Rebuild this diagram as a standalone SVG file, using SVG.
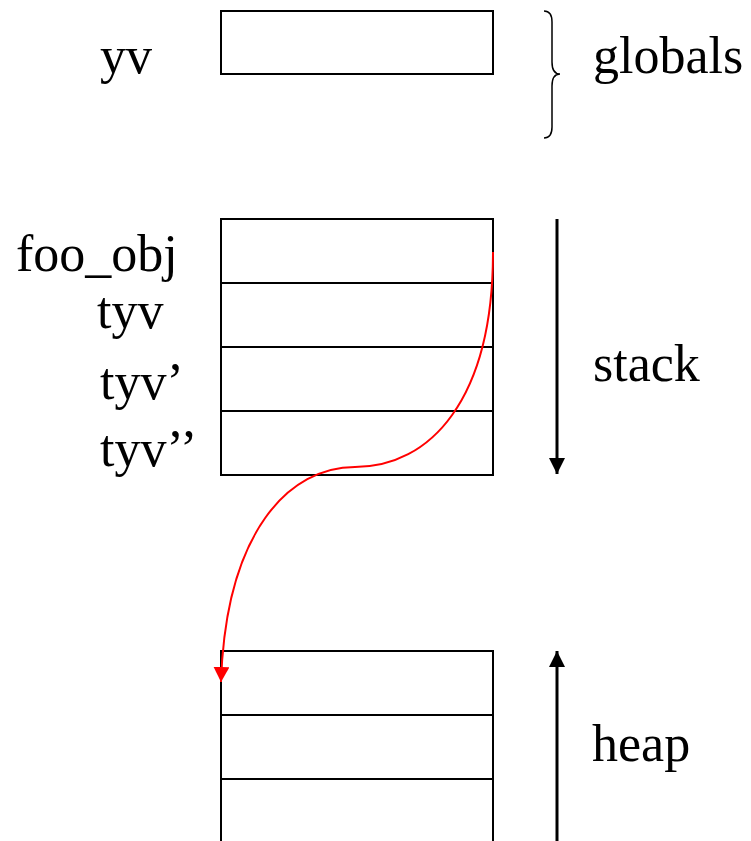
<svg xmlns="http://www.w3.org/2000/svg" width="751" height="841" viewBox="0 0 751 841">
  <style>
    .cell { fill: #fff; stroke: #000; stroke-width: 2; }
    .sep { stroke: #000; stroke-width: 2; }
    .lbl { font-family: "Liberation Serif", "Times New Roman", serif; font-size: 52px; fill: #000; }
    .axis { stroke: #000; stroke-width: 3; fill: none; }
    .ptr { stroke: #ff0000; stroke-width: 2; fill: none; }
  </style>
  <defs>
    <marker id="blackHead" markerUnits="userSpaceOnUse" markerWidth="18" markerHeight="18" refX="16" refY="8" orient="auto">
      <path d="M0,0 L16,8 L0,16 Z" fill="#000"/>
    </marker>
    <marker id="redHead" markerUnits="userSpaceOnUse" markerWidth="18" markerHeight="18" refX="15" refY="8" orient="auto">
      <path d="M0,0 L15,8 L0,16 Z" fill="#ff0000"/>
    </marker>
  </defs>

  <!-- globals segment -->
  <g id="globals">
    <rect class="cell" x="221" y="11" width="272" height="63"/>
    <text class="lbl" x="100" y="73">yv</text>
    <path d="M544,11 Q552,11 552,22 L552,62 Q552,74 560,74 Q552,74 552,86 L552,127 Q552,138 544,138" stroke="#000" stroke-width="1.5" fill="none"/>
    <text class="lbl" x="593" y="73">globals</text>
  </g>

  <!-- stack frames -->
  <g id="stack">
    <rect class="cell" x="221" y="219" width="272" height="256"/>
    <line class="sep" x1="221" y1="283" x2="493" y2="283"/>
    <line class="sep" x1="221" y1="347" x2="493" y2="347"/>
    <line class="sep" x1="221" y1="411" x2="493" y2="411"/>
    <text class="lbl" x="16" y="271">foo_obj</text>
    <text class="lbl" x="97" y="328">tyv</text>
    <text class="lbl" x="100" y="399">tyv’</text>
    <text class="lbl" x="100" y="466">tyv’’</text>
    <text class="lbl" x="593" y="381">stack</text>
  </g>

  <!-- heap cells -->
  <g id="heap">
    <rect class="cell" x="221" y="651" width="272" height="220"/>
    <line class="sep" x1="221" y1="715" x2="493" y2="715"/>
    <line class="sep" x1="221" y1="779" x2="493" y2="779"/>
    <text class="lbl" x="592" y="761">heap</text>
  </g>

  <!-- growth directions and the pointer -->
  <g id="connectors">
    <line class="axis" x1="557" y1="219" x2="557" y2="474" marker-end="url(#blackHead)"/>
    <line class="axis" x1="557" y1="841" x2="557" y2="651" marker-end="url(#blackHead)"/>
    <path class="ptr" d="M493,252 C493,400 430,467 355,467 C290,467 226,530 221,682" marker-end="url(#redHead)"/>
  </g>
</svg>
